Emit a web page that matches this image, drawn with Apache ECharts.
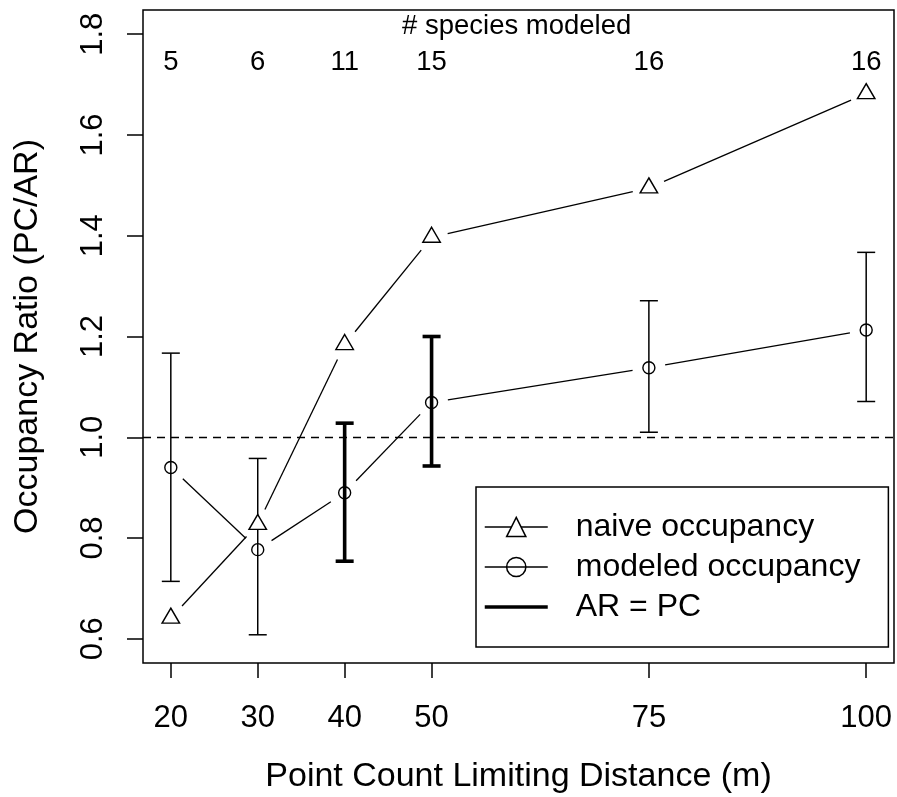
<!DOCTYPE html>
<html>
<head>
<meta charset="utf-8">
<script src="https://cdn.jsdelivr.net/npm/echarts@6/dist/echarts.min.js"></script>
<style>html,body{margin:0;padding:0;background:#fff}#c{width:897px;height:797px}</style>
</head>
<body>
<div id="c"></div>
<script>
// ---- data ----
const xVals = [20, 30, 40, 50, 75, 100];
const speciesCounts = [5, 6, 11, 15, 16, 16];
const naiveRatio = [0.641, 0.827, 1.184, 1.397, 1.495, 1.682];
const modeledRatio = [0.940, 0.777, 0.890, 1.069, 1.138, 1.213];
const ciLower = [0.714, 0.608, 0.754, 0.943, 1.010, 1.071];
const ciUpper = [1.167, 0.958, 1.028, 1.200, 1.271, 1.367];
const arEqualsPc = [40, 50];
const yTicks = [0.6, 0.8, 1.0, 1.2, 1.4, 1.6, 1.8];
const refLine = 1.0;
const xLimits = [16.8, 103.2];
const yLimits = [0.552, 1.848];

const FONT = 'Liberation Sans, Arial, sans-serif';

function points(ys) { return xVals.map((x, i) => [x, ys[i]]); }
function segments(ys) {
  const out = [];
  for (let i = 0; i < xVals.length - 1; i++) out.push([xVals[i], ys[i], xVals[i + 1], ys[i + 1]]);
  return out;
}
function bars(thick) {
  const out = [];
  xVals.forEach((x, i) => {
    if ((arEqualsPc.indexOf(x) >= 0) === thick) out.push([x, ciLower[i], ciUpper[i]]);
  });
  return out;
}

const GAP = 16.5;
function renderGapLine(params, api) {
  const p1 = api.coord([api.value(0), api.value(1)]);
  const p2 = api.coord([api.value(2), api.value(3)]);
  const dx = p2[0] - p1[0], dy = p2[1] - p1[1];
  const len = Math.sqrt(dx * dx + dy * dy);
  if (len <= 2 * GAP) return null;
  const ux = dx / len, uy = dy / len;
  return {
    type: 'line',
    shape: { x1: p1[0] + ux * GAP, y1: p1[1] + uy * GAP, x2: p2[0] - ux * GAP, y2: p2[1] - uy * GAP },
    style: { stroke: '#000', lineWidth: 1.3 }
  };
}
function makeErrRender(w) {
  return function (params, api) {
    const top = api.coord([api.value(0), api.value(2)]);
    const bot = api.coord([api.value(0), api.value(1)]);
    const hw = 9;
    const st = { stroke: '#000', lineWidth: w };
    return {
      type: 'group',
      children: [
        { type: 'line', shape: { x1: top[0], y1: top[1], x2: bot[0], y2: bot[1] }, style: st },
        { type: 'line', shape: { x1: top[0] - hw, y1: top[1], x2: top[0] + hw, y2: top[1] }, style: st },
        { type: 'line', shape: { x1: bot[0] - hw, y1: bot[1], x2: bot[0] + hw, y2: bot[1] }, style: st }
      ]
    };
  };
}

const chart = echarts.init(document.getElementById('c'), null, { renderer: 'canvas' });
chart.setOption({
  backgroundColor: '#fff',
  animation: false,
  textStyle: { fontFamily: FONT, color: '#000' },
  title: {
    text: '# species modeled', left: 402, top: 12, padding: 0,
    textStyle: { fontFamily: FONT, fontSize: 27.5, fontWeight: 'normal', color: '#000' }
  },
  grid: { left: 143, right: 3, top: 10, bottom: 134, outerBoundsMode: 'none', containLabel: false,
    show: true, borderColor: '#000', borderWidth: 1.5, backgroundColor: 'transparent' },
  legend: {
    orient: 'vertical', left: 476, top: 487,
    padding: [20, 28, 20, 8], itemGap: 0, itemWidth: 63, itemHeight: 24,
    borderColor: '#000', borderWidth: 1.5, backgroundColor: '#fff',
    textStyle: { fontFamily: FONT, fontSize: 32, color: '#000', lineHeight: 34, padding: [6, 0, 0, 23] },
    lineStyle: { color: '#000', width: 1.5, opacity: 1, type: 'solid' },
    itemStyle: { borderColor: '#000', borderWidth: 1.5 },
    data: [
      { name: 'naive occupancy' },
      { name: 'modeled occupancy' },
      { name: 'AR = PC', icon: 'path://M0,0M0,10.25H63V13.75H0ZM63,24', itemStyle: { color: '#000', borderWidth: 0 } }
    ]
  },
  xAxis: [
    {
      type: 'value', min: xLimits[0], max: xLimits[1], position: 'bottom',
      name: 'Point Count Limiting Distance (m)', nameLocation: 'middle', nameGap: 97,
      nameTextStyle: { fontFamily: FONT, fontSize: 34, color: '#000' },
      axisLine: { show: false },
      axisTick: { show: true, length: 15, customValues: xVals, lineStyle: { color: '#000', width: 1.5 } },
      axisLabel: { customValues: xVals, fontFamily: FONT, fontSize: 31, color: '#000', margin: 40 },
      splitLine: { show: false }
    },
    {
      type: 'value', min: xLimits[0], max: xLimits[1], position: 'top',
      axisLine: { show: false }, axisTick: { show: false }, splitLine: { show: false },
      axisLabel: {
        inside: true, margin: 38, customValues: xVals, fontFamily: FONT, fontSize: 27.5, color: '#000',
        formatter: function (v) { const i = xVals.indexOf(v); return i >= 0 ? String(speciesCounts[i]) : ''; }
      }
    }
  ],
  yAxis: {
    type: 'value', min: yLimits[0], max: yLimits[1],
    name: 'Occupancy Ratio (PC/AR)', nameLocation: 'middle', nameGap: 98,
    nameTextStyle: { fontFamily: FONT, fontSize: 34, color: '#000' },
    axisLine: { show: false },
    axisTick: { show: true, length: 16, customValues: yTicks, lineStyle: { color: '#000', width: 1.5 } },
    axisLabel: { customValues: yTicks, rotate: 90, margin: 34, fontFamily: FONT, fontSize: 31, color: '#000',
      formatter: function (v) { return Number(v).toFixed(1); } },
    splitLine: { show: false }
  },
  series: [
    {
      name: 'naive occupancy', type: 'line', data: points(naiveRatio),
      symbol: 'triangle', symbolSize: [17.5, 15], symbolOffset: [0, -2.5],
      itemStyle: { color: '#fff', borderColor: '#000', borderWidth: 1.4 },
      lineStyle: { opacity: 0 }, z: 5, silent: true
    },
    {
      name: 'modeled occupancy', type: 'line', data: points(modeledRatio),
      symbol: 'circle', symbolSize: 12,
      itemStyle: { color: 'rgba(255,255,255,0)', borderColor: '#000', borderWidth: 1.4 },
      lineStyle: { opacity: 0 }, z: 5, silent: true
    },
    {
      name: 'naive segments', type: 'custom', renderItem: renderGapLine, data: segments(naiveRatio),
      encode: { x: [0, 2], y: [1, 3] }, silent: true, z: 3
    },
    {
      name: 'modeled segments', type: 'custom', renderItem: renderGapLine, data: segments(modeledRatio),
      encode: { x: [0, 2], y: [1, 3] }, silent: true, z: 3,
      markLine: {
        silent: true, symbol: 'none', label: { show: false },
        lineStyle: { color: '#000', width: 1.4, type: [8, 6] },
        data: [{ yAxis: refLine }]
      }
    },
    {
      name: 'CI', type: 'custom', renderItem: makeErrRender(1.5), data: bars(false),
      encode: { x: 0, y: [1, 2] }, silent: true, z: 4, itemStyle: { color: '#000' }
    },
    {
      name: 'AR = PC', type: 'custom', renderItem: makeErrRender(3.6), data: bars(true),
      encode: { x: 0, y: [1, 2] }, silent: true, z: 4, itemStyle: { color: '#000' }
    }
  ]
});
</script>
</body>
</html>
